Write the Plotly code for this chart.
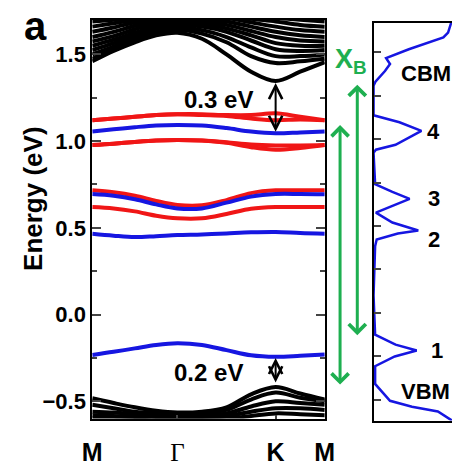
import plotly.graph_objects as go

# k-path M - Gamma - K - M (hexagonal BZ, relative lengths)
k_ticks = [0.0, 0.866, 1.866, 2.366]
k_labels = ["M", "Γ", "K", "M"]
k = [0.0, 0.217, 0.433, 0.65, 0.866, 1.116, 1.366, 1.616, 1.866, 2.116, 2.366]

# conduction bands (black)
cb1 = [1.46, 1.52, 1.57, 1.61, 1.625, 1.59, 1.50, 1.40, 1.347, 1.40, 1.455]
cb2 = [1.475, 1.53, 1.58, 1.62, 1.64, 1.62, 1.57, 1.49, 1.45, 1.46, 1.475]
cb3 = [1.50, 1.545, 1.595, 1.635, 1.655, 1.64, 1.60, 1.54, 1.49, 1.49, 1.50]
cb4 = [1.525, 1.565, 1.61, 1.65, 1.67, 1.66, 1.63, 1.58, 1.53, 1.52, 1.525]
cb5 = [1.55, 1.585, 1.625, 1.665, 1.685, 1.675, 1.65, 1.61, 1.565, 1.55, 1.55]
cb6 = [1.575, 1.605, 1.645, 1.68, 1.70, 1.69, 1.67, 1.635, 1.60, 1.58, 1.575]
cb7 = [1.60, 1.63, 1.665, 1.695, 1.715, 1.705, 1.69, 1.66, 1.63, 1.61, 1.60]
cb8 = [1.63, 1.655, 1.685, 1.71, 1.73, 1.72, 1.71, 1.685, 1.66, 1.64, 1.63]
cb9 = [1.66, 1.68, 1.70, 1.725, 1.745, 1.735, 1.725, 1.705, 1.69, 1.67, 1.66]
cb10 = [1.69, 1.70, 1.72, 1.74, 1.76, 1.75, 1.74, 1.72, 1.71, 1.70, 1.69]
# valence bands (black)
vb1 = [-0.483, -0.51, -0.535, -0.555, -0.565, -0.56, -0.535, -0.46, -0.418, -0.455, -0.49]
vb2 = [-0.52, -0.54, -0.56, -0.57, -0.575, -0.57, -0.55, -0.49, -0.45, -0.48, -0.50]
vb3 = [-0.56, -0.565, -0.575, -0.58, -0.585, -0.58, -0.57, -0.53, -0.50, -0.51, -0.52]
vb4 = [-0.58, -0.585, -0.59, -0.59, -0.595, -0.59, -0.585, -0.56, -0.54, -0.54, -0.55]
vb5 = [-0.60, -0.60, -0.60, -0.60, -0.60, -0.60, -0.60, -0.585, -0.57, -0.575, -0.58]
# defect bands, spin up (red)
red1 = [1.12, 1.13, 1.14, 1.15, 1.155, 1.155, 1.15, 1.15, 1.16, 1.14, 1.12]
red2 = [1.12, 1.13, 1.14, 1.15, 1.155, 1.15, 1.145, 1.13, 1.12, 1.125, 1.12]
red3 = [0.977, 0.985, 0.995, 1.003, 1.006, 1.003, 0.99, 0.965, 0.95, 0.96, 0.977]
red4 = [0.977, 0.985, 0.995, 1.003, 1.006, 1.003, 0.993, 0.98, 0.975, 0.975, 0.977]
red5 = [0.716, 0.705, 0.685, 0.655, 0.632, 0.63, 0.66, 0.70, 0.716, 0.716, 0.716]
red6 = [0.62, 0.612, 0.595, 0.57, 0.555, 0.555, 0.58, 0.61, 0.62, 0.62, 0.62]
# defect bands, spin down (blue)
blue1 = [1.056, 1.068, 1.08, 1.09, 1.093, 1.09, 1.075, 1.055, 1.045, 1.05, 1.056]
blue2 = [0.695, 0.685, 0.665, 0.635, 0.612, 0.612, 0.645, 0.68, 0.695, 0.695, 0.693]
blue3 = [0.466, 0.455, 0.447, 0.452, 0.458, 0.462, 0.468, 0.474, 0.476, 0.47, 0.466]
blue4 = [-0.233, -0.215, -0.195, -0.175, -0.165, -0.175, -0.205, -0.235, -0.244, -0.238, -0.23]

black_bands = [cb1, cb2, cb3, cb4, cb5, cb6, cb7, cb8, cb9, cb10, vb1, vb2, vb3, vb4, vb5]
red_bands = [red1, red2, red3, red4, red5, red6]
blue_bands = [blue1, blue2, blue3, blue4]

# density of states (right panel)
dos_energy = [1.70, 1.67, 1.613, 1.585, 1.517, 1.466, 1.432, 1.392, 1.33, 1.307,
              1.137, 1.097, 1.047, 0.967, 0.939, 0.921,
              0.741, 0.696, 0.656, 0.611, 0.577, 0.520, 0.474, 0.457, 0.422, 0.384,
              0.10, -0.126, -0.183, -0.217, -0.251, -0.307,
              -0.409, -0.506, -0.54, -0.568, -0.608, -0.62]
dos_value = [1.0, 0.99, 0.95, 0.89, 0.45, 0.16, 0.21, 0.146, 0.024, 0.0,
             0.0, 0.33, 0.61, 0.28, 0.03, 0.0,
             0.02, 0.24, 0.46, 0.21, 0.03, 0.24, 0.57, 0.31, 0.04, 0.02,
             0.0, 0.02, 0.28, 0.55, 0.27, 0.02,
             0.02, 0.21, 0.49, 0.82, 0.97, 1.0]

RED = "rgb(240,22,22)"
BLUE = "rgb(22,22,225)"
GREEN = "rgb(30,175,80)"
FONT = "Liberation Sans"

fig = go.Figure()
for b in black_bands:
    fig.add_trace(go.Scatter(x=k, y=b, mode="lines", line=dict(color="black", width=4, shape="spline"),
                             showlegend=False, hoverinfo="skip"))
for b in red_bands:
    fig.add_trace(go.Scatter(x=k, y=b, mode="lines", line=dict(color=RED, width=4, shape="spline"),
                             showlegend=False, hoverinfo="skip"))
for b in blue_bands:
    fig.add_trace(go.Scatter(x=k, y=b, mode="lines", line=dict(color=BLUE, width=4, shape="spline"),
                             showlegend=False, hoverinfo="skip"))
fig.add_trace(go.Scatter(x=dos_value, y=dos_energy, mode="lines", xaxis="x2", yaxis="y2",
                         line=dict(color=BLUE, width=2.5), showlegend=False, hoverinfo="skip"))

W, H = 462, 466
def px(xp):
    return xp / W
def py(yp):
    return 1 - yp / H

ticktext = [t if t != "Γ" else '<span style="font-family:Liberation Serif;font-weight:normal">Γ</span>'
            for t in k_labels]

fig.update_layout(
    width=W, height=H, margin=dict(l=0, r=0, t=0, b=0),
    paper_bgcolor="white", plot_bgcolor="white",
    xaxis=dict(domain=[px(86), px(329)], range=[0, 2.366], showgrid=False, zeroline=False,
               showline=True, linecolor="black", linewidth=2, mirror=True,
               tickvals=k_ticks, ticktext=ticktext, ticks="inside", ticklen=4, tickwidth=1.5,
               tickfont=dict(family=FONT, size=25, color="black", weight="bold"),
               ticklabelstandoff=10),
    yaxis=dict(domain=[py(425), py(20)], range=[-0.6, 1.7], showgrid=False, zeroline=False,
               showline=True, linecolor="black", linewidth=2, mirror="ticks",
               tickvals=[-0.5, 0, 0.5, 1.0, 1.5], tickformat=".1f",
               ticks="inside", ticklen=9, tickwidth=2,
               minor=dict(dtick=0.25, tick0=0, ticks="inside", ticklen=5, tickwidth=2, showgrid=False),
               tickfont=dict(family=FONT, size=22, color="black", weight="bold")),
    xaxis2=dict(domain=[px(380), 1.0], range=[0, 1], anchor="y2", showgrid=False, zeroline=False,
                showline=True, linecolor="black", linewidth=2, mirror=True,
                showticklabels=False, ticks=""),
    yaxis2=dict(domain=[py(427), py(23)], range=[-0.62, 1.67], anchor="x2",
                showgrid=False, zeroline=False, showline=True, linecolor="black", linewidth=2,
                dtick=0.25, tick0=0, ticks="inside", ticklen=7, tickwidth=2, showticklabels=False),
)

def label(txt, xp, yp, size, color="black", angle=0):
    return dict(x=px(xp), y=py(yp), xref="paper", yref="paper", text=txt, showarrow=False,
                xanchor="center", yanchor="middle", textangle=angle,
                font=dict(family=FONT, size=size, color=color))

ann = []
ann.append(label("<b>a</b>", 27, 26, 40))
ann.append(label("<b>Energy (eV)</b>", 24, 201, 26, angle=-90))
ann.append(label("<b>0.3 eV</b>", 218, 101, 24))
ann.append(label("<b>0.2 eV</b>", 208, 378, 24))
# black double arrows
for (y0, y1) in [(1.335, 1.045), (-0.25, -0.40)]:
    ann.append(dict(x=k_ticks[2], y=y0, ax=k_ticks[2], ay=y1, xref="x", yref="y", axref="x", ayref="y",
                    text="", showarrow=True, arrowhead=5, startarrowhead=5, arrowside="end+start",
                    arrowsize=1.3, startarrowsize=1.3, arrowwidth=2, arrowcolor="black",
                    standoff=0, startstandoff=0))
# green double arrows
for (xp, ytop, ybot) in [(345, 127, 388), (363, 86, 338)]:
    ann.append(dict(x=px(xp), y=py(ytop), ax=0, ay=ybot - ytop, xref="paper", yref="paper",
                    axref="pixel", ayref="pixel",
                    text="", showarrow=True, arrowhead=4, startarrowhead=4, arrowside="end+start",
                    arrowsize=1.1, startarrowsize=1.1, arrowwidth=3, arrowcolor=GREEN,
                    standoff=0, startstandoff=0))
ann.append(label("<b>X<sub>B</sub></b>", 356, 62, 27, color=GREEN))
# DOS labels
for (txt, xp, yp) in [("CBM", 435, 75), ("4", 443, 133), ("3", 443, 202), ("2", 443, 243),
                      ("1", 446, 356), ("VBM", 434, 397)]:
    ann.append(label("<b>" + txt + "</b>", xp, yp, 22))
fig.update_layout(annotations=ann)

fig.write_html("out.html")
